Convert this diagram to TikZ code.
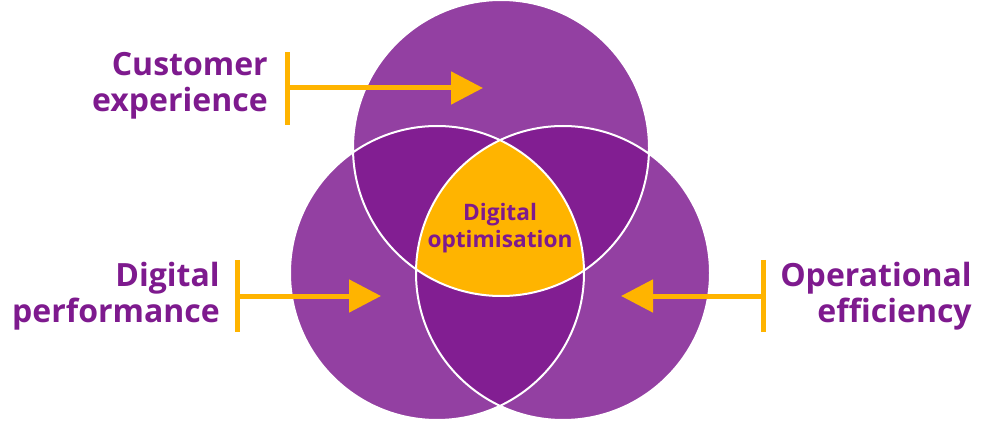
\documentclass[tikz,border=0pt]{standalone}
\usepackage{fontspec}
\setmainfont{Open Sans}
\usetikzlibrary{arrows.meta}
\definecolor{lp}{HTML}{9340A2}
\definecolor{dp}{HTML}{821E92}
\definecolor{tp}{HTML}{7E1A8E}
\definecolor{og}{HTML}{FFB400}
\begin{document}
\begin{tikzpicture}[x=0.75pt,y=-0.75pt,
  lbl/.style={font=\bfseries\fontsize{24}{27}\selectfont,text=tp,align=right,inner sep=0pt},
  bar/.style={draw=og,line width=3.75pt},
  arr/.style={draw=og,line width=3.75pt,-{Triangle[length=24pt,width=24pt]}}]
\useasboundingbox (0,0) rectangle (1000,424);
\def\ca{(501,148) circle[radius=148]}
\def\cb{(437,273) circle[radius=147]}
\def\cc{(563,273) circle[radius=147]}
\fill[lp] \ca; \fill[lp] \cb; \fill[lp] \cc;
\begin{scope}\clip \ca; \fill[dp] \cb; \fill[dp] \cc;\end{scope}
\begin{scope}\clip \cb; \fill[dp] \cc;\end{scope}
\begin{scope}\clip \ca; \clip \cb; \fill[og] \cc;\end{scope}
\draw[white,line width=1.5pt] \ca \cb \cc;
\node[font=\bfseries\fontsize{17}{20}\selectfont,text=tp,align=center] (dopt) at (500,228) {Digital\\optimisation};
\node[lbl,anchor=east] (ce) at (268,86) {Customer\\experience};
\node[lbl,anchor=east] (dpf) at (220,296) {Digital\\performance};
\node[lbl,anchor=west] (oe) at (780,296) {Operational\\efficiency};
\coordinate (a1) at (287,52); \coordinate (a2) at (287,125); \coordinate (a3) at (287,88); \coordinate (at) at (483,88);
\coordinate (b1) at (237,260); \coordinate (b2) at (237,332); \coordinate (b3) at (237,296); \coordinate (bt) at (381,296);
\coordinate (c1) at (763,260); \coordinate (c2) at (763,332); \coordinate (c3) at (763,296); \coordinate (ct) at (621,296);
\draw[bar] (a1) -- (a2); \draw[arr] (a3) -- (at);
\draw[bar] (b1) -- (b2); \draw[arr] (b3) -- (bt);
\draw[bar] (c1) -- (c2); \draw[arr] (c3) -- (ct);
\end{tikzpicture}
\end{document}
